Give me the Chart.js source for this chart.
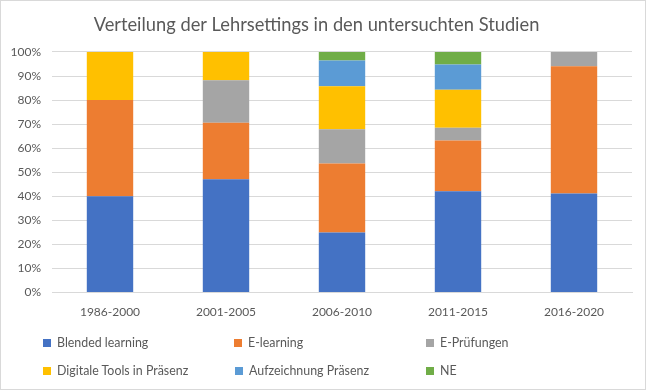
<!DOCTYPE html>
<html>
<head>
<meta charset="utf-8">
<script src="https://cdn.jsdelivr.net/npm/chart.js@4"></script>
<style>
  html, body { margin: 0; padding: 0; background: #fff; }
  #wrap { position: relative; width: 646px; height: 390px; box-sizing: border-box; border: 1px solid #d9d9d9; overflow: hidden; }
  #c { position: absolute; left: 0; top: 0; }
  .lg { position: absolute; font-family: Lato, "Open Sans", sans-serif; font-size: 12.4px; color: #595959; white-space: nowrap; line-height: 16px; }
  .lg i { display: inline-block; width: 8px; height: 8px; margin-right: 6px; vertical-align: 0px; }
</style>
</head>
<body>
<div id="wrap">
  <canvas id="c" width="644" height="388"></canvas>
  <div id="legend"></div>
</div>
<script>
const categories = ['1986-2000', '2001-2005', '2006-2010', '2011-2015', '2016-2020'];
const blendedLearning = [40, 47.1, 25, 42.1, 41.2];
const eLearning = [40, 23.5, 28.6, 21.1, 52.9];
const ePruefungen = [0, 17.6, 14.3, 5.3, 5.9];
const digitaleTools = [20, 11.8, 17.9, 15.8, 0];
const aufzeichnung = [0, 0, 10.7, 10.5, 0];
const ne = [0, 0, 3.5, 5.2, 0];
const yTicks = [0, 10, 20, 30, 40, 50, 60, 70, 80, 90, 100];

const seriesNames = ['Blended learning', 'E-learning', 'E-Prüfungen', 'Digitale Tools in Präsenz', 'Aufzeichnung Präsenz', 'NE'];
const seriesData = [blendedLearning, eLearning, ePruefungen, digitaleTools, aufzeichnung, ne];
const colors = ['#4472C4', '#ED7D31', '#A5A5A5', '#FFC000', '#5B9BD5', '#70AD47'];

const datasets = seriesNames.map((n, i) => ({
  label: n,
  data: seriesData[i],
  backgroundColor: colors[i],
  borderWidth: 0,
  barPercentage: 0.4,
  categoryPercentage: 1.0
}));

const tickFont = { family: 'Lato, "Open Sans", sans-serif', size: 12 };

new Chart(document.getElementById('c'), {
  type: 'bar',
  data: { labels: categories, datasets },
  options: {
    responsive: false,
    animation: false,
    layout: { padding: { left: 0, right: 13, top: 8, bottom: 58 } },
    plugins: {
      legend: { display: false },
      tooltip: { enabled: false },
      title: {
        display: true,
        text: 'Verteilung der Lehrsettings in den untersuchten Studien',
        color: '#595959',
        font: { family: 'Lato, "Open Sans", sans-serif', size: 18.3, weight: 'normal' },
        padding: { top: 5, bottom: 16 }
      }
    },
    scales: {
      x: {
        stacked: true,
        grid: { display: false, drawTicks: false },
        border: { display: true, color: '#d9d9d9', width: 1 },
        ticks: { color: '#595959', font: tickFont, padding: 12 }
      },
      y: {
        stacked: true,
        min: 0,
        max: 100,
        afterBuildTicks: (s) => { s.ticks = yTicks.map(v => ({ value: v })); },
        afterFit: (s) => { s.width = 51; },
        grid: { color: '#d9d9d9', lineWidth: 1, drawTicks: false },
        border: { display: false },
        ticks: { color: '#595959', font: tickFont, padding: 11, callback: v => v + '%' }
      }
    }
  }
});

const legendPos = [
  [42, 334], [233, 334], [425, 334],
  [42, 362], [234, 362], [425, 362]
];
const lg = document.getElementById('legend');
seriesNames.forEach((n, i) => {
  const d = document.createElement('div');
  d.className = 'lg';
  d.style.left = legendPos[i][0] + 'px';
  d.style.top = legendPos[i][1] + 'px';
  const sq = document.createElement('i');
  sq.style.background = colors[i];
  d.appendChild(sq);
  d.appendChild(document.createTextNode(n));
  lg.appendChild(d);
});
</script>
</body>
</html>
